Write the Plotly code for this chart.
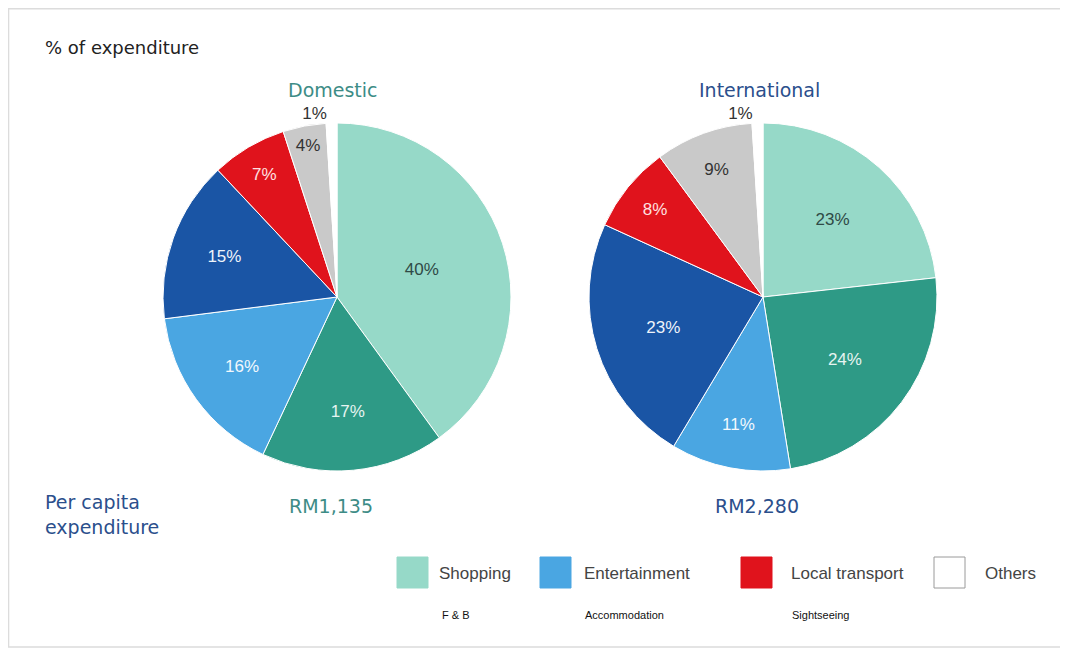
import plotly.graph_objects as go

# page body adds an 8px margin; size figure so it fits in the 1068x652 window
W, H = 1060, 644
OFF = 8

categories = ["Shopping", "F & B", "Entertainment", "Accommodation",
              "Local transport", "Sightseeing", "Others"]
domestic = [40, 17, 16, 15, 7, 4, 1]
international = [23, 24, 11, 23, 8, 9, 1]
per_capita = ["RM1,135", "RM2,280"]
pie_titles = ["Domestic", "International"]

colors = ["#96d9c8", "#2e9a86", "#4aa6e2", "#1a55a5", "#e0131c", "#c9c9c9", "#ffffff"]
text_colors = ["#2f4a46", "#e6f4f1", "#f2f8fd", "#eef3fa", "#ffe0e0", "#333333", "#333333"]
positions = ["inside"] * 6 + ["outside"]

TEAL = "#3d8c86"
NAVY = "#2b4f8c"


def px_x(x):
    return (x - OFF) / W


def px_y(y):
    return 1 - (y - OFF) / H


fig = go.Figure()

label_font = "Liberation Sans, Arial, sans-serif"
pie_geo = [(337, 297, 174), (763, 297, 174)]
for (cx, cy, r), vals in zip(pie_geo, [domestic, international]):
    fig.add_trace(go.Pie(
        labels=categories,
        values=vals,
        sort=False,
        direction="clockwise",
        rotation=0,
        marker=dict(colors=colors, line=dict(color="#ffffff", width=1)),
        texttemplate="%{value}%",
        textposition=positions,
        insidetextorientation="horizontal",
        textfont=dict(family=label_font, size=17, color=text_colors),
        outsidetextfont=dict(family=label_font, size=17, color="#333333"),
        domain=dict(x=[px_x(cx - r), px_x(cx + r)], y=[px_y(cy + r), px_y(cy - r)]),
        showlegend=False,
        hoverinfo="label+percent",
    ))

annotations = []
shapes = []

# frame
shapes.append(dict(type="rect", xref="paper", yref="paper",
                   x0=0.0005, x1=px_x(1063), y0=px_y(647), y1=0.999,
                   line=dict(color="#dcdcdc", width=1.5), fillcolor="rgba(0,0,0,0)"))

title_font = "DejaVu Sans, Verdana, sans-serif"
annotations.append(dict(text="% of expenditure", x=px_x(43), y=px_y(47), xref="paper", yref="paper",
                        xanchor="left", yanchor="middle", showarrow=False,
                        font=dict(family=title_font, size=18, color="#222222")))
for (cx, cy, r), t, pc, col in zip(pie_geo, pie_titles, per_capita, [TEAL, NAVY]):
    annotations.append(dict(text=t, x=px_x(cx - 4), y=px_y(90), xref="paper", yref="paper",
                            xanchor="center", yanchor="middle", showarrow=False,
                            font=dict(family=title_font, size=19, color=col)))
    annotations.append(dict(text=pc, x=px_x(cx - 6), y=px_y(506), xref="paper", yref="paper",
                            xanchor="center", yanchor="middle", showarrow=False,
                            font=dict(family=title_font, size=19, color=col)))
annotations.append(dict(text="Per capita<br>expenditure", x=px_x(43), y=px_y(514), xref="paper", yref="paper",
                        xanchor="left", yanchor="middle", align="left", showarrow=False,
                        font=dict(family=title_font, size=19, color=NAVY)))

# legend (row 1 with swatches, row 2 text only)
row1 = [(0, 397, 437), (2, 540, 582), (4, 741, 789), (6, 934, 983)]
for idx, sx, tx in row1:
    shapes.append(dict(type="rect", xref="paper", yref="paper",
                       x0=px_x(sx), x1=px_x(sx + 31), y0=px_y(588), y1=px_y(557),
                       fillcolor=colors[idx],
                       line=dict(color="#9a9a9a" if idx == 6 else colors[idx], width=1)))
    annotations.append(dict(text=categories[idx], x=px_x(tx), y=px_y(573), xref="paper", yref="paper",
                            xanchor="left", yanchor="middle", showarrow=False,
                            font=dict(family=label_font, size=17, color="#444444")))
row2 = [(1, 440), (3, 583), (5, 790)]
for idx, tx in row2:
    annotations.append(dict(text=categories[idx], x=px_x(tx), y=px_y(615), xref="paper", yref="paper",
                            xanchor="left", yanchor="middle", showarrow=False,
                            font=dict(family=label_font, size=11, color="#111111")))

fig.update_layout(
    width=W, height=H,
    margin=dict(l=0, r=0, t=0, b=0),
    paper_bgcolor="#ffffff",
    plot_bgcolor="#ffffff",
    annotations=annotations,
    shapes=shapes,
)

fig.write_html("out.html")
